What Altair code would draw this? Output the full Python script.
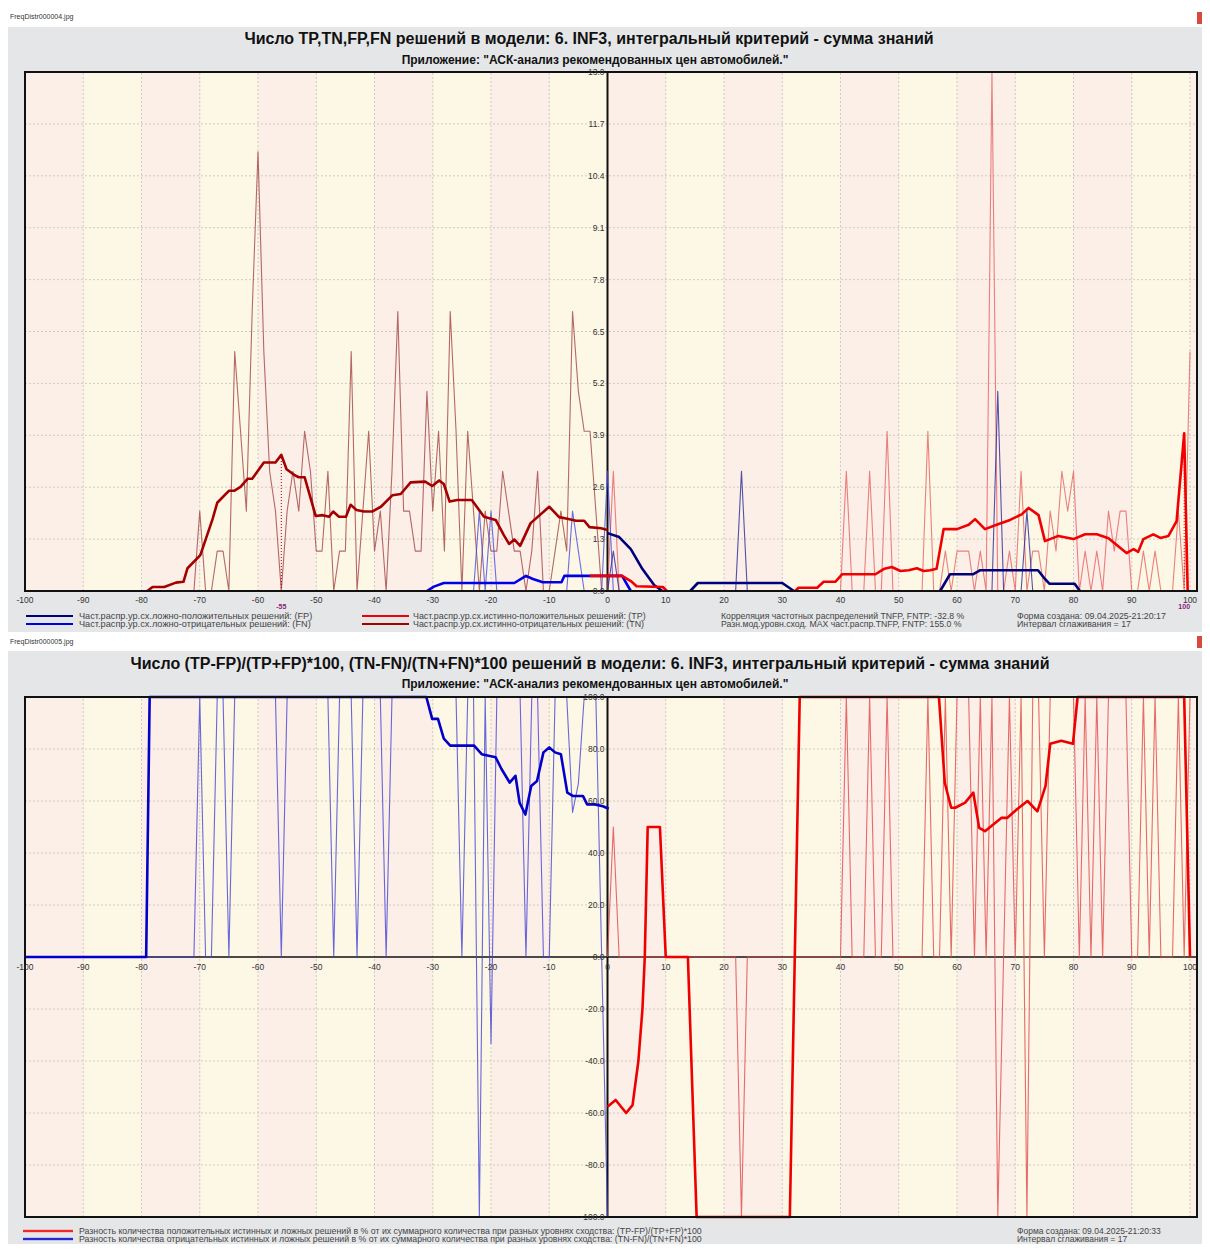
import altair as alt
import pandas as pd

# ------------------------------------------------------------------ data
X_TICKS = list(range(-100, 101, 10))
TOP_Y_TICKS = [0.0, 1.3, 2.6, 3.9, 5.2, 6.5, 7.8, 9.1, 10.4, 11.7, 13.0]
BOT_Y_TICKS = [100, 80, 60, 40, 20, 0, -20, -40, -60, -80, -100]
BAND_EDGES = list(range(-100, 101, 10)) + [101.2]

# top panel: raw counts per similarity level
TN_X = list(range(-80, 1))
TN_RAW = [0, 0, 0, 0, 0, 0, 0, 0, 0, 0,
          2, 0, 0, 1, 1, 0, 6, 4, 2, 7,
          11, 6, 3, 2, 0, 2, 3, 2, 4, 3,
          1, 1, 3, 0, 1, 1, 6, 0, 2, 4,
          1, 2, 0, 3, 7, 2, 2, 1, 1, 5,
          2, 4, 1, 7, 4, 0, 4, 2, 0, 2,
          1, 1, 3, 2, 1, 1, 0, 1, 3, 0,
          0, 1, 2, 1, 7, 5, 4, 4, 2, 0,
          0]
FN_X = list(range(-32, 3))
FN_RAW = [0, 0, 0, 0, 0, 0, 0, 0, 0, 0,
          2, 0, 2, 0, 0, 0, 0, 0, 0, 0,
          0, 0, 0, 0, 0, 0, 2, 1, 0, 0,
          0, 0, 3, 0, 0]
TP_X = list(range(0, 101))
TP_RAW = [0, 3, 0, 0, 0, 0, 0, 0, 0, 0,
          0, 0, 0, 0, 0, 0, 0, 0, 0, 0,
          0, 0, 0, 0, 0, 0, 0, 0, 0, 0,
          0, 0, 0, 0, 0, 0, 0, 0, 0, 0,
          0, 3, 0, 0, 0, 3, 0, 0, 4, 0,
          0, 0, 0, 0, 0, 4, 0, 0, 1, 0,
          1, 1, 1, 0, 1, 0, 13, 0, 0, 1,
          0, 3, 0, 1, 1, 0, 2, 1, 3, 2,
          3, 0, 1, 0, 1, 0, 2, 1, 2, 2,
          0, 0, 1, 0, 1, 0, 0, 0, 2, 0,
          6]
FP_X = list(range(0, 101))
FP_RAW = [0, 1, 0, 0, 0, 0, 0, 0, 0, 0,
          0, 0, 0, 0, 0, 0, 0, 0, 0, 0,
          0, 0, 0, 3, 0, 0, 0, 0, 0, 0,
          0, 0, 0, 0, 0, 0, 0, 0, 0, 0,
          0, 0, 0, 0, 0, 0, 0, 0, 0, 0,
          0, 0, 0, 0, 0, 0, 0, 0, 0, 0,
          0, 0, 0, 0, 0, 0, 0, 5, 0, 0,
          0, 0, 2, 0, 0, 0, 0, 0, 0, 0,
          0, 0, 0, 0, 0, 0, 0, 0, 0, 0,
          0, 0, 0, 0, 0, 0, 0, 0, 0, 0,
          0]

# top panel: smoothed curves (vertices)
TN_SM_X = [-79, -78.1, -76.1, -74.1, -72.8, -72.1, -69.9, -67.8, -67, -65, -64.1, -63, -61.8,
           -61, -59, -57, -56, -55.1, -53.8, -53, -52, -50.1, -48.9, -47.8, -47.1, -46.1,
           -44.9, -44.1, -43.1, -41.8, -40.4, -38.9, -36.9, -35.5, -33.8, -31.3, -30.1,
           -28.9, -28.1, -27.1, -25.8, -23.3, -21.2, -19.2, -17.8, -16.9, -16, -15, -13.2,
           -10, -8.3, -6.9, -5.4, -4, -3.1, -1.1, 0]
TN_SM_Y = [0, 0.1, 0.1, 0.21, 0.23, 0.57, 0.9, 1.8, 2.21, 2.51, 2.51, 2.61, 2.81,
           2.81, 3.22, 3.22, 3.41, 3.05, 2.91, 2.85, 2.85, 1.88, 1.9, 1.86, 1.99, 1.86,
           1.86, 2.16, 2.03, 1.99, 1.99, 2.11, 2.4, 2.43, 2.72, 2.74, 2.63,
           2.77, 2.68, 2.24, 2.28, 2.28, 1.86, 1.78, 1.4, 1.18, 1.29, 1.13, 1.7,
           2.11, 1.85, 1.81, 1.76, 1.76, 1.6, 1.57, 1.53]
FN_SM_X = [-31, -29.8, -28.1, -16, -14, -12.8, -11.1, -7.9, -7.4, 2.5, 4]
FN_SM_Y = [0, 0.11, 0.2, 0.2, 0.38, 0.3, 0.22, 0.22, 0.38, 0.38, 0]
FP_SM1_X = [0, 2, 4, 6, 8, 9.4]
FP_SM1_Y = [1.45, 1.35, 1.05, 0.55, 0.15, 0]
FP_SM2_X = [14.2, 15.5, 30, 32]
FP_SM2_Y = [0, 0.2, 0.2, 0]
FP_SM3_X = [57.1, 58.8, 62.8, 64, 73.9, 75.1, 75.9, 80.2, 81.1]
FP_SM3_Y = [0, 0.42, 0.42, 0.52, 0.52, 0.3, 0.18, 0.18, 0]
TP_SM1_X = [-3, 2.5, 4, 5, 9.5, 10.2]
TP_SM1_Y = [0.38, 0.38, 0.25, 0.12, 0.1, 0]
TP_SM2_X = [32.2, 32.8, 36, 37.1, 39.1, 40.3, 46, 47.4, 48.8, 50.3, 51.7, 53.1, 54.3, 55.4,
            56.5, 57.7, 60, 62, 63.1, 64.8, 66.8, 69.1, 71.1, 72.3, 74, 75.1, 77.4, 80, 82,
            84, 86, 89.1, 90.3, 91.1, 92, 93.7, 94.9, 96.3, 97.7, 99, 99.6]
TP_SM2_Y = [0, 0.08, 0.08, 0.23, 0.23, 0.42, 0.42, 0.55, 0.6, 0.5, 0.52, 0.57, 0.5, 0.52,
            0.56, 1.55, 1.55, 1.66, 1.8, 1.55, 1.66, 1.78, 1.92, 2.08, 1.9, 1.25, 1.38, 1.3, 1.42,
            1.42, 1.32, 0.95, 1.05, 0.98, 1.3, 1.42, 1.33, 1.38, 1.75, 3.95, 0]
MODE_X = [-56, 99]
MODE_Y = [3.41, 3.95]
MODE_LABELS = ["-55", "100"]

# bottom panel: raw percentages
BR_X = list(range(0, 101))
BR_RAW = [0, 50, 0, 0, 0, 0, 0, 0, 0, 0,
          0, 0, 0, 0, 0, 0, 0, 0, 0, 0,
          0, 0, 0, -100, 0, 0, 0, 0, 0, 0,
          0, 0, 0, 0, 0, 0, 0, 0, 0, 0,
          0, 100, 0, 0, 0, 100, 0, 0, 100, 0,
          0, 0, 0, 0, 0, 100, 0, 0, 100, 0,
          100, 100, 100, 0, 100, 0, 100, -100, 0, 100,
          0, 100, -100, 100, 100, 0, 100, 100, 100, 100,
          100, 0, 100, 0, 100, 0, 100, 100, 100, 100,
          0, 0, 100, 0, 100, 0, 0, 0, 100, 0,
          100]
BB_X = [-100] + list(range(-72, 1))
BB_RAW = [0,
          0, 0, 100, 0, 0, 100, 100, 0, 100, 100,
          100, 100, 100, 100, 100, 100, 0, 100, 100, 100,
          100, 100, 100, 100, 100, 0, 100, 100, 100, 0,
          100, 100, 100, 100, 0, 100, 100, 100, 100, 100,
          100, 100, 100, 100, 100, 100, 100, 0, 100, 100,
          -100, 100, -33.3, 100, 100, 100, 100, 100, 0, 100,
          100, 0, 0, 100, 100, 100, 55.6, 66.7, 100, 100,
          100, 0, -100]
# bottom panel: smoothed curves
BR_SM_X = [0, 1.4, 3.2, 4.3, 5.3, 6.0, 6.4, 6.9, 9.0, 10, 13.8, 15.3, 31.3, 33, 56.9, 57.9,
           59, 59.7, 61.4, 62.8, 63.8, 64.8, 67.6, 68.6, 70.3, 72.1, 73.8, 75.2, 76, 77.9,
           79.9, 80.7, 99, 100]
BR_SM_Y = [-57.6, -55, -60, -57, -40, -20, 0, 50, 50, 0, 0, -100, -100, 100, 100, 67,
           57.4, 57.4, 59.4, 63.2, 49.7, 48.4, 53.5, 53.5, 56.8, 60, 56, 65.8, 82, 83.2,
           82, 100, 100, 0]
BB_SM_X = [-100, -79.2, -78.6, -31.1, -30.1, -29.1, -28.1, -27, -22.9, -21.6, -19.2, -18.2,
           -16.8, -15.8, -15.1, -14.1, -13.1, -12.1, -11, -10, -9, -8, -6.9, -5.9, -4.2,
           -3.5, -2.2, -0.8, 0.2]
BB_SM_Y = [0, 0, 100, 100, 91.6, 91.6, 84, 81.3, 81.3, 78, 76.8, 72.3,
           67.1, 69.7, 59.4, 54.8, 65.8, 67.7, 78.7, 80.6, 78.7, 78, 63.2, 61.9, 61.9,
           58.7, 58.7, 58, 57]

# ------------------------------------------------------------------ style
FONT = "Liberation Sans"
PANEL = "#e5e6e8"
PINK = "#fcefe7"
CREAM = "#fdf7e6"
GRID = "#d2cac0"
W, H = 1194, 1236

SX = alt.Scale(domain=[-100, 101.2], range=[17, 1189], nice=False, zero=False)
SYT = alt.Scale(domain=[0, 13], range=[583, 64], nice=False, zero=False)
SYB = alt.Scale(domain=[-100, 100], range=[1209, 689], nice=False, zero=False)

ONE = pd.DataFrame({"a": [0]})


def X(f):
    return alt.X(f, type="quantitative", scale=SX, axis=None)


def Y(f, s):
    return alt.Y(f, type="quantitative", scale=s, axis=None)


def line(xs, ys, s, color, w, op=1.0, dash=None):
    df = pd.DataFrame({"x": xs, "y": ys, "i": list(range(len(xs)))})
    kw = dict(color=color, strokeWidth=w, opacity=op, strokeJoin="round")
    if dash:
        kw["strokeDash"] = dash
    return alt.Chart(df).mark_line(**kw).encode(
        x=X("x"), y=Y("y", s), order=alt.Order("i:Q"))


def txt(s, x, y, size=8, weight="normal", align="left", color="#222"):
    return alt.Chart(ONE).mark_text(
        fontSize=size, fontWeight=weight, align=align, baseline="middle",
        color=color, font=FONT).encode(x=alt.value(x), y=alt.value(y), text=alt.value(s))


def box(x0, x1, y0, y1, color):
    return alt.Chart(ONE).mark_rect(color=color).encode(
        x=alt.value(x0), x2=alt.value(x1), y=alt.value(y0), y2=alt.value(y1))


def sample(x0, x1, y, color, w=2):
    return alt.Chart(ONE).mark_rule(color=color, strokeWidth=w).encode(
        x=alt.value(x0), x2=alt.value(x1), y=alt.value(y))


def panel_base(sy, lo, hi, hgrid):
    L = []
    lo_edges = BAND_EDGES[:-1]
    hi_edges = BAND_EDGES[1:]
    bands = pd.DataFrame({"x0": lo_edges, "x1": hi_edges, "lo": lo, "hi": hi,
                          "k": ["p" if i % 2 == 0 else "c" for i in range(len(lo_edges))]})
    for kind, col in (("p", PINK), ("c", CREAM)):
        L.append(alt.Chart(bands[bands.k == kind]).mark_rect(color=col).encode(
            x=X("x0"), x2=alt.X2("x1"), y=Y("lo", sy), y2=alt.Y2("hi")))
    vg = pd.DataFrame({"gx": X_TICKS[1:], "lo": lo, "hi": hi})
    L.append(alt.Chart(vg).mark_rule(color=GRID, strokeDash=[2, 2], strokeWidth=1).encode(
        x=X("gx"), y=Y("lo", sy), y2=alt.Y2("hi")))
    hg = pd.DataFrame({"gy": hgrid, "xl": -100, "xr": 101.2})
    L.append(alt.Chart(hg).mark_rule(color=GRID, strokeDash=[2, 2], strokeWidth=1).encode(
        y=Y("gy", sy), x=X("xl"), x2=alt.X2("xr")))
    return L


def frame(sy, lo, hi):
    fr = pd.DataFrame({"x0": [-100], "x1": [101.2], "lo": [lo], "hi": [hi]})
    return alt.Chart(fr).mark_rect(fillOpacity=0, stroke="#111", strokeWidth=2).encode(
        x=X("x0"), x2=alt.X2("x1"), y=Y("lo", sy), y2=alt.Y2("hi"))


def yaxis_line(sy, lo, hi):
    d = pd.DataFrame({"z": [0], "lo": [lo], "hi": [hi]})
    return alt.Chart(d).mark_rule(color="#111", strokeWidth=2).encode(
        x=X("z"), y=Y("lo", sy), y2=alt.Y2("hi"))


def xlabels(ypx):
    d = pd.DataFrame({"v": X_TICKS, "t": [str(v) for v in X_TICKS]})
    return alt.Chart(d).mark_text(fontSize=8.5, font=FONT, color="#333", align="center",
                                  baseline="middle").encode(
        x=X("v"), y=alt.value(ypx), text="t:N")


def ylabels(sy, ticks, fmt):
    d = pd.DataFrame({"v": ticks, "z": 0, "t": [fmt % v for v in ticks]})
    return alt.Chart(d).mark_text(fontSize=8.5, font=FONT, color="#333", align="right",
                                  baseline="middle", dx=-3).encode(
        x=X("z"), y=Y("v", sy), text="t:N")


layers = []
# page furniture
layers.append(box(0, W, 19, 624, PANEL))
layers.append(box(0, W, 643, H, PANEL))
layers.append(txt("FreqDistr000004.jpg", 2, 9, size=7, color="#333"))
layers.append(txt("FreqDistr000005.jpg", 2, 634, size=7, color="#333"))
layers.append(box(1189, W, 4, 16, "#d9483b"))
layers.append(box(1189, W, 628, 640, "#d9483b"))

# ---------------- top panel
layers += panel_base(SYT, 0, 13, TOP_Y_TICKS[1:-1])
layers.append(yaxis_line(SYT, 0, 13))
layers.append(line(TN_X, TN_RAW, SYT, "#9c3a3a", 1.1, 0.75))
layers.append(line(TP_X, TP_RAW, SYT, "#e45a5a", 1.1, 0.75))
layers.append(line(FN_X, FN_RAW, SYT, "#4a4ae0", 1.1, 0.8))
layers.append(line(FP_X, FP_RAW, SYT, "#28289a", 1.1, 0.8))
layers.append(line(FN_SM_X, FN_SM_Y, SYT, "#0000e6", 2.6))
for xs, ys in ((FP_SM1_X, FP_SM1_Y), (FP_SM2_X, FP_SM2_Y), (FP_SM3_X, FP_SM3_Y)):
    layers.append(line(xs, ys, SYT, "#00007c", 2.6))
layers.append(line(TP_SM1_X, TP_SM1_Y, SYT, "#f00000", 2.6))
layers.append(line(TP_SM2_X, TP_SM2_Y, SYT, "#f00000", 2.6))
layers.append(line(TN_SM_X, TN_SM_Y, SYT, "#a50000", 2.6))
mode = pd.DataFrame({"x": MODE_X, "y": MODE_Y, "z": 0, "t": MODE_LABELS,
                     "c": ["#a50000", "#f00000"]})
layers.append(alt.Chart(mode).mark_rule(strokeDash=[1, 2], strokeWidth=1).encode(
    x=X("x"), y=Y("z", SYT), y2=alt.Y2("y"), color=alt.Color("c:N", scale=None)))
layers.append(alt.Chart(mode).mark_text(fontSize=7, fontWeight="bold", font=FONT,
                                        color="#8a1a7a", align="center").encode(
    x=X("x"), y=alt.value(599), text="t:N"))
layers.append(frame(SYT, 0, 13))
layers.append(xlabels(592))
layers.append(ylabels(SYT, TOP_Y_TICKS, "%.1f"))
layers.append(txt("Число TP,TN,FP,FN решений в модели: 6. INF3, интегральный критерий - сумма знаний",
                  581, 31, size=16, weight="bold", align="center", color="#111"))
layers.append(txt('Приложение: "АСК-анализ рекомендованных цен автомобилей."',
                  587, 52, size=12, weight="bold", align="center", color="#111"))
# top legend
layers.append(sample(18, 65, 608, "#00007c"))
layers.append(sample(18, 65, 616, "#0000e6"))
layers.append(sample(354, 401, 608, "#f00000"))
layers.append(sample(354, 401, 616, "#a50000"))
layers.append(txt("Част.распр.ур.сх.ложно-положительных решений: (FP)", 71, 608, size=9.2, color="#444"))
layers.append(txt("Част.распр.ур.сх.ложно-отрицательных решений: (FN)", 71, 616, size=9.2, color="#444"))
layers.append(txt("Част.распр.ур.сх.истинно-положительных решений: (TP)", 405, 608, size=8.9, color="#444"))
layers.append(txt("Част.распр.ур.сх.истинно-отрицательных решений: (TN)", 405, 616, size=8.9, color="#444"))
layers.append(txt("Корреляция частотных распределений TNFP, FNTP: -32.8 %", 713, 608, size=8.7, color="#444"))
layers.append(txt("Разн.мод.уровн.сход. MAX част.распр.TNFP, FNTP:  155.0 %", 713, 616, size=8.7, color="#444"))
layers.append(txt("Форма создана: 09.04.2025-21:20:17", 1009, 608, size=8.8, color="#444"))
layers.append(txt("Интервал сглаживания = 17", 1009, 616, size=8.8, color="#444"))

# ---------------- bottom panel
layers += panel_base(SYB, -100, 100, [80, 60, 40, 20, -20, -40, -60, -80])
layers.append(yaxis_line(SYB, -100, 100))
zl = pd.DataFrame({"xl": [-100], "xr": [101.2], "z": [0]})
layers.append(alt.Chart(zl).mark_rule(color="#111", strokeWidth=1.5).encode(
    x=X("xl"), x2=alt.X2("xr"), y=Y("z", SYB)))
layers.append(line(BB_X, BB_RAW, SYB, "#4444d6", 1.1, 0.8))
layers.append(line(BR_X, BR_RAW, SYB, "#e04848", 1.1, 0.8))
layers.append(line(BB_SM_X, BB_SM_Y, SYB, "#0000c8", 2.6))
layers.append(line(BR_SM_X, BR_SM_Y, SYB, "#ee0000", 2.6))
layers.append(frame(SYB, -100, 100))
layers.append(xlabels(959))
layers.append(ylabels(SYB, BOT_Y_TICKS, "%.1f"))
layers.append(txt("Число (TP-FP)/(TP+FP)*100, (TN-FN)/(TN+FN)*100 решений в модели: 6. INF3, интегральный критерий - сумма знаний",
                  582, 656, size=16, weight="bold", align="center", color="#111"))
layers.append(txt('Приложение: "АСК-анализ рекомендованных цен автомобилей."',
                  587, 676, size=12, weight="bold", align="center", color="#111"))
layers.append(sample(15, 65, 1223, "#f4a0a0", 3))
layers.append(sample(15, 65, 1223, "#ee0000", 1.5))
layers.append(sample(15, 65, 1231, "#a0a0f0", 3))
layers.append(sample(15, 65, 1231, "#0000c8", 1.5))
layers.append(txt("Разность количества положительных истинных и ложных решений в % от их суммарного количества при разных уровнях сходства: (TP-FP)/(TP+FP)*100",
                  71, 1223, size=8.75, color="#444"))
layers.append(txt("Разность количества отрицательных истинных и ложных решений в % от их суммарного количества при разных уровнях сходства: (TN-FN)/(TN+FN)*100",
                  71, 1231, size=8.75, color="#444"))
layers.append(txt("Форма создана: 09.04.2025-21:20:33", 1009, 1223, size=8.5, color="#444"))
layers.append(txt("Интервал сглаживания = 17", 1009, 1231, size=8.5, color="#444"))

chart = alt.layer(*layers).resolve_scale(y="independent").properties(
    width=W, height=H, padding=0, background="white",
    autosize=alt.AutoSizeParams(type="none"),
).configure_view(strokeWidth=0)

chart.save("out.html", embed_options={"renderer": "svg", "actions": False})
